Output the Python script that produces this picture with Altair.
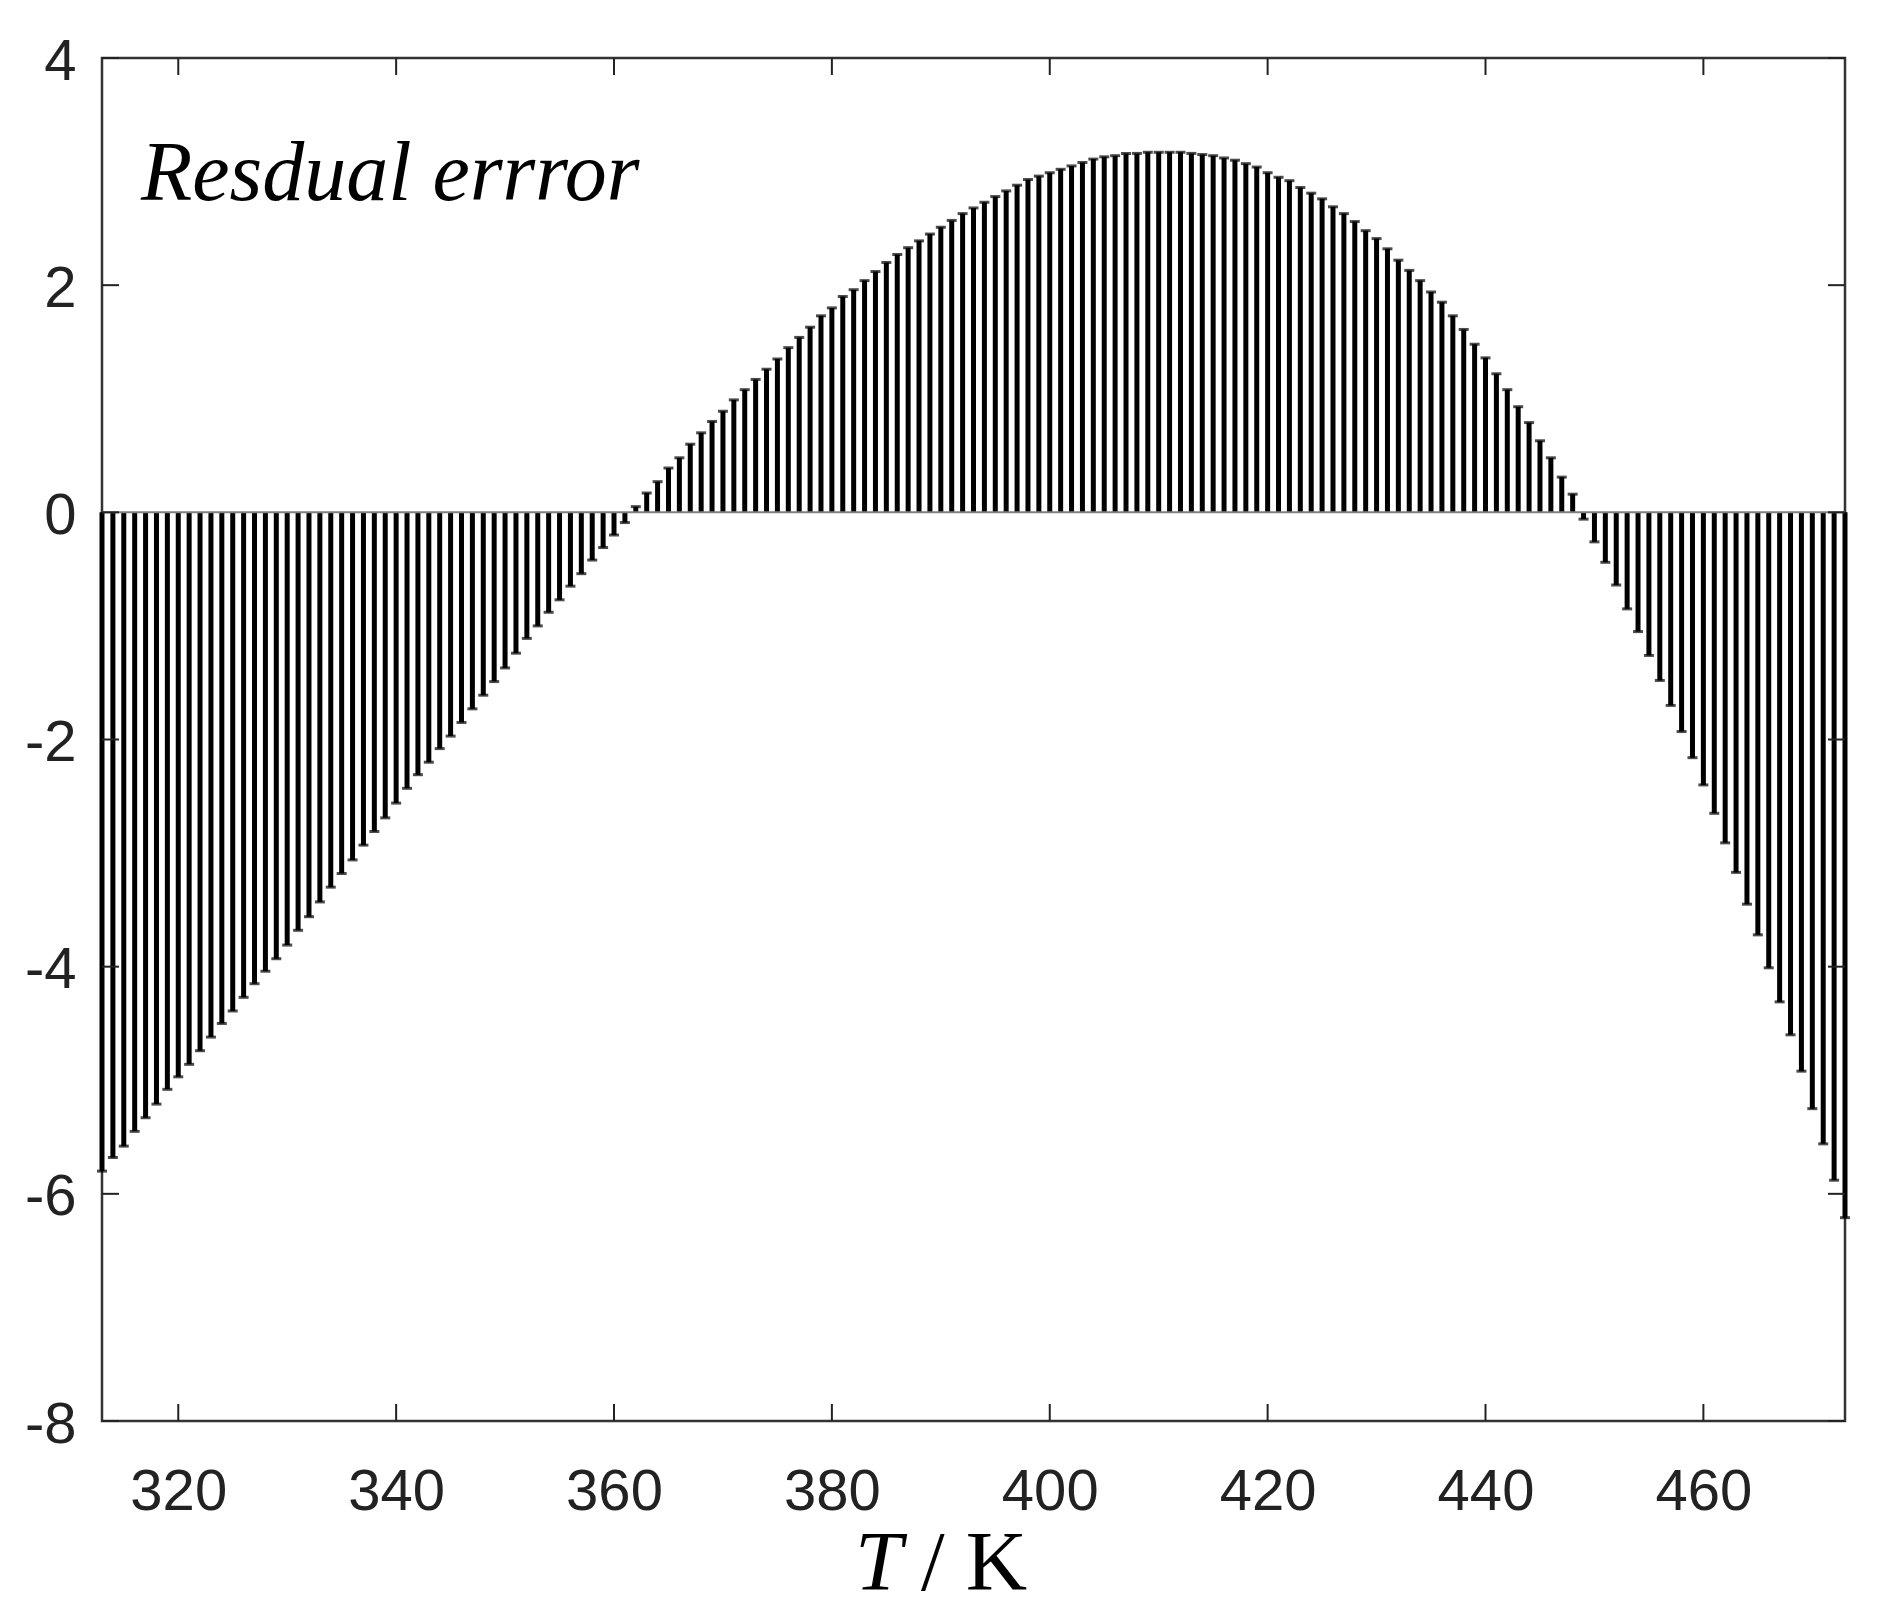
import altair as alt
import pandas as pd

# ---- data ----
temperature_K = list(range(313, 474))
residual = [
    -5.80, -5.68, -5.58, -5.45, -5.33, -5.21, -5.08, -4.97, -4.86, -4.74,   # 313-322
    -4.62, -4.50, -4.39, -4.27, -4.15, -4.04, -3.93, -3.81, -3.68, -3.56,   # 323-332
    -3.43, -3.30, -3.18, -3.06, -2.93, -2.81, -2.69, -2.56, -2.43, -2.31,   # 333-342
    -2.20, -2.08, -1.97, -1.85, -1.73, -1.61, -1.49, -1.37, -1.24, -1.11,   # 343-352
    -1.00, -0.88, -0.77, -0.65, -0.54, -0.42, -0.31, -0.20, -0.09, 0.05,    # 353-362
    0.17, 0.27, 0.39, 0.48, 0.60, 0.70, 0.80, 0.89, 0.99, 1.08,            # 363-372
    1.17, 1.26, 1.35, 1.45, 1.54, 1.63, 1.73, 1.80, 1.90, 1.96,            # 373-382
    2.04, 2.12, 2.20, 2.27, 2.33, 2.39, 2.45, 2.51, 2.57, 2.63,            # 383-392
    2.68, 2.73, 2.78, 2.83, 2.88, 2.93, 2.96, 2.99, 3.02, 3.05,            # 393-402
    3.08, 3.11, 3.13, 3.14, 3.16, 3.16, 3.17, 3.17, 3.17, 3.17,            # 403-412
    3.16, 3.15, 3.14, 3.12, 3.10, 3.07, 3.04, 2.99, 2.95, 2.92,            # 413-422
    2.86, 2.81, 2.76, 2.69, 2.63, 2.56, 2.48, 2.41, 2.32, 2.22,            # 423-432
    2.13, 2.04, 1.94, 1.85, 1.73, 1.61, 1.48, 1.36, 1.22, 1.08,            # 433-442
    0.93, 0.79, 0.63, 0.48, 0.31, 0.16, -0.06, -0.26, -0.44, -0.64,        # 443-452
    -0.85, -1.05, -1.26, -1.48, -1.70, -1.93, -2.16, -2.40, -2.65, -2.91,  # 453-462
    -3.17, -3.45, -3.72, -4.01, -4.31, -4.60, -4.92, -5.25, -5.56, -5.88,  # 463-472
    -6.21,                                                                  # 473
]
x_ticks = [320, 340, 360, 380, 400, 420, 440, 460]
y_ticks = [-8, -6, -4, -2, 0, 2, 4]
x_domain = [313, 473]
y_domain = [-8, 4]
baseline_value = [0]
annotation = ["Resdual errror"]
x_title_italic = ["T"]
x_title_rest = ["/ K"]

W, H = 1743, 1363
TICK = 17

df = pd.DataFrame({"T": temperature_K, "R": residual})
df["zero"] = 0.0

xs = alt.Scale(domain=x_domain, nice=False, zero=False)
ys = alt.Scale(domain=y_domain, nice=False, zero=False)

axis_font = "Liberation Sans"

x_axis = alt.Axis(values=x_ticks, ticks=False, domain=False, grid=False, title=None,
                  labelFont=axis_font, labelFontSize=58, labelColor="#222",
                  labelPadding=42, labelFlush=False)
y_axis = alt.Axis(values=y_ticks, ticks=False, domain=False, grid=False, title=None,
                  labelFont=axis_font, labelFontSize=58, labelColor="#222",
                  labelPadding=26, labelOffset=4, labelFlush=False,
                  labelExpr="toString(datum.value)")

base = alt.Chart(df)

stems = base.mark_rule(color="black", strokeWidth=5).encode(
    x=alt.X("T:Q", scale=xs, axis=x_axis),
    y=alt.Y("zero:Q", scale=ys, axis=y_axis),
    y2="R:Q",
)

markers = base.mark_tick(color="black", orient="horizontal", size=10, thickness=3).encode(
    x=alt.X("T:Q", scale=xs, axis=x_axis),
    y=alt.Y("R:Q", scale=ys, axis=y_axis),
)

zero_line = alt.Chart(pd.DataFrame({"b": baseline_value})).mark_rule(
    color="#808080", strokeWidth=2
).encode(
    y=alt.Y("b:Q", scale=ys, axis=y_axis),
    x=alt.value(0), x2=alt.value(W),
)

xt = pd.DataFrame({"xt": x_ticks})
yt = pd.DataFrame({"yt": y_ticks})
tick_style = dict(color="#222", strokeWidth=2)
xticks_bottom = alt.Chart(xt).mark_rule(**tick_style).encode(
    x=alt.X("xt:Q", scale=xs, axis=x_axis), y=alt.value(H), y2=alt.value(H - TICK))
xticks_top = alt.Chart(xt).mark_rule(**tick_style).encode(
    x=alt.X("xt:Q", scale=xs, axis=x_axis), y=alt.value(0), y2=alt.value(TICK))
yticks_left = alt.Chart(yt).mark_rule(**tick_style).encode(
    y=alt.Y("yt:Q", scale=ys, axis=y_axis), x=alt.value(0), x2=alt.value(TICK))
yticks_right = alt.Chart(yt).mark_rule(**tick_style).encode(
    y=alt.Y("yt:Q", scale=ys, axis=y_axis), x=alt.value(W), x2=alt.value(W - TICK))

label = alt.Chart(pd.DataFrame({"s": annotation})).mark_text(
    font="Liberation Serif", fontStyle="italic", fontSize=84, align="left",
    baseline="alphabetic", color="black"
).encode(text="s:N", x=alt.value(39), y=alt.value(142))

title_T = alt.Chart(pd.DataFrame({"s": x_title_italic})).mark_text(
    font="Liberation Serif", fontStyle="italic", fontSize=85, align="left",
    baseline="alphabetic", color="black"
).encode(text="s:N", x=alt.value(753), y=alt.value(1532))

title_rest = alt.Chart(pd.DataFrame({"s": x_title_rest})).mark_text(
    font="Liberation Serif", fontSize=85, align="left",
    baseline="alphabetic", color="black"
).encode(text="s:N", x=alt.value(819), y=alt.value(1532))

chart = alt.layer(
    stems, markers, zero_line,
    xticks_bottom, xticks_top, yticks_left, yticks_right,
    label, title_T, title_rest,
).properties(
    width=W, height=H,
    autosize="none",
    padding={"left": 94, "top": 50, "right": 35, "bottom": 192},
    background="white",
).configure_view(
    stroke="#333", strokeWidth=2.5
)

chart.save("out.html", embed_options={"renderer": "svg", "actions": False})
